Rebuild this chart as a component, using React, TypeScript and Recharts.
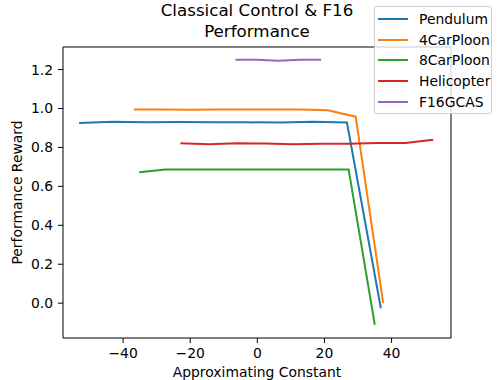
import { Legend, Line, LineChart, ReferenceLine, XAxis, YAxis } from "recharts";

const FONT = "DejaVu Sans, Verdana, sans-serif";

const pendulumX = [-53.1, -43.1, -33.2, -23.2, -13.2, -3.3, 6.7, 16.7, 26.7, 36.8];
const pendulumY = [0.926, 0.932, 0.93, 0.931, 0.93, 0.929, 0.928, 0.932, 0.928, -0.026];

const car4X = [-36.8, -28.5, -20.3, -12.0, -3.8, 4.5, 12.8, 21.0, 29.3, 37.5];
const car4Y = [0.995, 0.995, 0.994, 0.995, 0.995, 0.995, 0.995, 0.991, 0.958, 0.0];

const car8X = [-35.2, -27.4, -19.6, -11.8, -4.0, 3.8, 11.6, 19.4, 27.2, 35.0];
const car8Y = [0.673, 0.687, 0.687, 0.687, 0.687, 0.687, 0.687, 0.687, 0.687, -0.111];

const heliX = [-22.9, -14.5, -6.1, 2.2, 10.6, 19.0, 27.3, 35.7, 44.1, 52.4];
const heliY = [0.821, 0.817, 0.822, 0.82, 0.817, 0.819, 0.819, 0.823, 0.823, 0.84];

const f16X = [-6.5, -0.1, 6.3, 12.6, 19.0];
const f16Y = [1.251, 1.251, 1.245, 1.251, 1.251];

const xTicks = [-40, -20, 0, 20, 40];
const yTicks = [0, 0.2, 0.4, 0.6, 0.8, 1.0, 1.2];
const xDomain: [number, number] = [-57.9, 57.7];
const yDomain: [number, number] = [-0.179, 1.316];

const toRows = (xs: number[], ys: number[]) => xs.map((x, i) => ({ x, y: ys[i] }));

const series = [
  { name: "Pendulum", color: "#1f77b4", data: toRows(pendulumX, pendulumY) },
  { name: "4CarPloon", color: "#ff7f0e", data: toRows(car4X, car4Y) },
  { name: "8CarPloon", color: "#2ca02c", data: toRows(car8X, car8Y) },
  { name: "Helicopter", color: "#d62728", data: toRows(heliX, heliY) },
  { name: "F16GCAS", color: "#9467bd", data: toRows(f16X, f16Y) }
];

const tickStyle = { fontFamily: FONT, fontSize: 13.9, fill: "#000" };

function BoxLegend() {
  return (
    <div
      style={{
        width: 118,
        height: 108,
        boxSizing: "border-box",
        border: "1px solid #d0d0d0",
        borderRadius: 3,
        background: "rgba(255,255,255,0.8)",
        paddingTop: 2,
        fontFamily: FONT,
        fontSize: 13.9
      }}
    >
      {series.map((s) => (
        <div key={s.name} style={{ display: "flex", alignItems: "center", height: 20.6 }}>
          <div style={{ marginLeft: 3, width: 30, height: 2, background: s.color }} />
          <span style={{ marginLeft: 11, color: "#000", lineHeight: "16px" }}>{s.name}</span>
        </div>
      ))}
    </div>
  );
}

export default function App() {
  return (
    <div style={{ position: "absolute", left: 0, top: 0, width: 500, height: 380, background: "#fff" }}>
      <div
        style={{
          position: "absolute",
          left: 0,
          top: 0,
          width: 514,
          textAlign: "center",
          fontFamily: FONT,
          fontSize: 16.7,
          lineHeight: "20.5px",
          color: "#000"
        }}
      >
        Classical Control &amp; F16
        <br />
        Performance
      </div>
      <LineChart width={500} height={380} margin={{ top: 47, right: 49, bottom: 0, left: 0 }}>
        <XAxis
          type="number"
          dataKey="x"
          domain={xDomain}
          ticks={xTicks}
          allowDataOverflow
          height={42}
          tickSize={5}
          tickMargin={5}
          tick={tickStyle}
          tickFormatter={(v: number) => (v < 0 ? `\u2212${Math.abs(v)}` : `${v}`)}
          axisLine={{ stroke: "#000", strokeWidth: 1 }}
          tickLine={{ stroke: "#000", strokeWidth: 1 }}
          label={{
            value: "Approximating Constant",
            position: "insideBottom",
            offset: 3,
            style: { fontFamily: FONT, fontSize: 13.9, fill: "#000" }
          }}
        />
        <YAxis
          type="number"
          dataKey="y"
          domain={yDomain}
          ticks={yTicks}
          allowDataOverflow
          width={63}
          tickSize={5}
          tickMargin={5}
          tick={tickStyle}
          tickFormatter={(v: number) => v.toFixed(1)}
          axisLine={{ stroke: "#000", strokeWidth: 1 }}
          tickLine={{ stroke: "#000", strokeWidth: 1 }}
          label={{
            value: "Performance Reward",
            angle: -90,
            position: "insideLeft",
            offset: 17,
            style: { fontFamily: FONT, fontSize: 13.9, fill: "#000", textAnchor: "middle" }
          }}
        />
        {series.map((s) => (
          <Line
            key={s.name}
            data={s.data}
            dataKey="y"
            name={s.name}
            type="linear"
            stroke={s.color}
            strokeWidth={2}
            dot={false}
            isAnimationActive={false}
          />
        ))}
        <ReferenceLine y={yDomain[1]} stroke="#000" strokeWidth={1} />
        <ReferenceLine x={xDomain[1]} stroke="#000" strokeWidth={1} />
        <Legend
          layout="vertical"
          align="center"
          verticalAlign="middle"
          content={() => <BoxLegend />}
          wrapperStyle={{ position: "absolute", top: 6, left: 374, width: 118 }}
        />
      </LineChart>
    </div>
  );
}
